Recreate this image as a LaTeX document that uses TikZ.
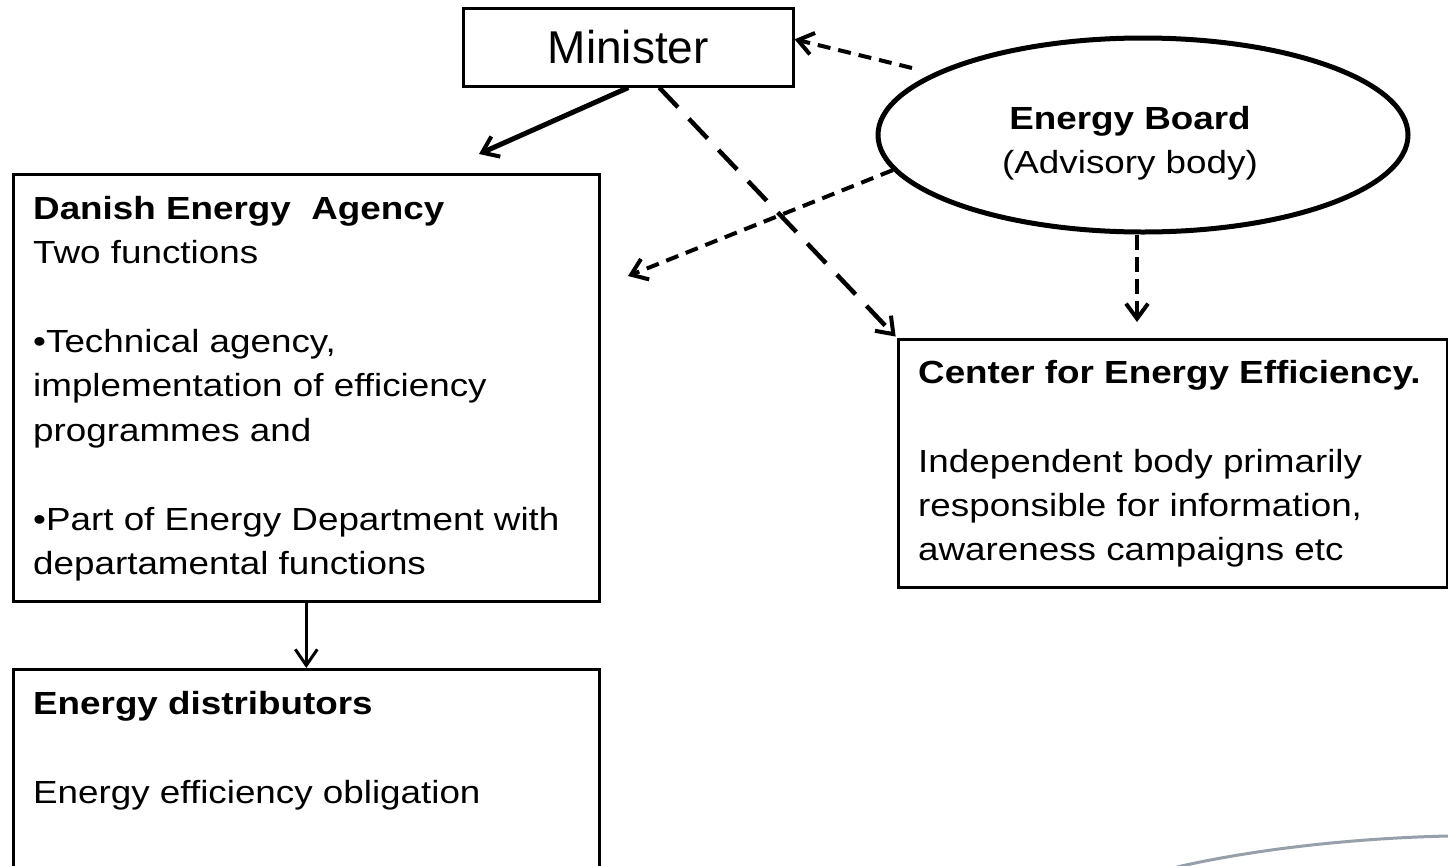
\documentclass[tikz,border=0pt]{standalone}
\usepackage{fontspec}
\setmainfont{Liberation Sans}[FakeStretch=1.15]
\newfontfamily\minfont{Liberation Sans}
\usetikzlibrary{arrows.meta,shapes.geometric}
\newcommand{\bodyfs}{\fontsize{32pt}{44.4pt}\selectfont}
\tikzset{
  box/.style={draw, rectangle, line width=2.6pt, inner sep=0pt, anchor=north west},
  txt/.style={inner sep=0pt, align=left, anchor=north west, font=\bodyfs},
  tip/.style={-{Straight Barb[length=15pt,width=22pt,line width=4pt]}},
  solidarr/.style={tip, line width=5pt},
  thinarr/.style={-{Straight Barb[length=16pt,width=22pt,line width=3pt]}, line width=3pt},
  longdash/.style={tip, line width=4.5pt, dash pattern=on 27pt off 16pt},
  shortdash/.style={tip, line width=4pt, dash pattern=on 13pt off 8pt},
  middash/.style={tip, line width=4.5pt, dash pattern=on 15pt off 7pt}
}
\begin{document}
\begin{tikzpicture}[x=1pt,y=-1pt]
\useasboundingbox (0,0) rectangle (1448,865);
\fill[white] (0,0) rectangle (1448,865);

% Minister
\node[box, minimum width=330pt, minimum height=78pt, font=\minfont\fontsize{46pt}{50pt}\selectfont] (min) at (462,7) {Minister};

% Energy Board
\node[ellipse, draw, line width=5pt, minimum width=530pt, minimum height=194pt, inner sep=0pt] (eb) at (1143,135) {};
\node[inner sep=0pt, align=center, anchor=north, font=\bodyfs] (ebT) at (1130,106) {\textbf{Energy Board}\\(Advisory body)};

% Danish Energy Agency
\node[box, minimum width=586pt, minimum height=427pt] (dea) at (12,173) {};
\node[txt] (deaT) at (33,196) {\textbf{Danish Energy~ Agency}\\Two functions\\[44.4pt]•Technical agency,\\implementation of efficiency\\programmes and\\[44.4pt]•Part of Energy Department with\\departamental functions};

% Center for Energy Efficiency
\node[box, minimum width=549pt, minimum height=248pt] (cee) at (897,338) {};
\node[txt] (ceeT) at (918,360) {\textbf{Center for Energy Efficiency.}\\[44.4pt]Independent body primarily\\responsible for information,\\awareness campaigns etc};

% Energy distributors
\node[box, minimum width=586pt, minimum height=260pt] (dist) at (12,668) {};
\node[txt] (distT) at (33,691) {\textbf{Energy distributors}\\[44.4pt]Energy efficiency obligation};

% free ends
\coordinate (a1) at (479,154);
\coordinate (a2) at (628,276);
\coordinate (s1) at (912,68);
\coordinate (d0) at ([xshift=-6pt]eb.south);

% connectors
\draw[solidarr] (min.south) -- (a1);
\draw[longdash, shorten >=2pt] ([xshift=31pt]min.south) -- (cee.north west);
\draw[shortdash] (s1) -- ([yshift=8pt]min.east);
\draw[shortdash] (eb.188) -- (a2);
\draw[middash, shorten >=16pt] (d0) -- (cee.north -| d0);
\draw[thinarr] (dea.south) -- (dist.north);

% background curve
\draw[color={rgb,255:red,150;green,160;blue,170}, line width=3pt] (1177,867) .. controls (1260,848) and (1360,838) .. (1448,836);
\end{tikzpicture}
\end{document}
